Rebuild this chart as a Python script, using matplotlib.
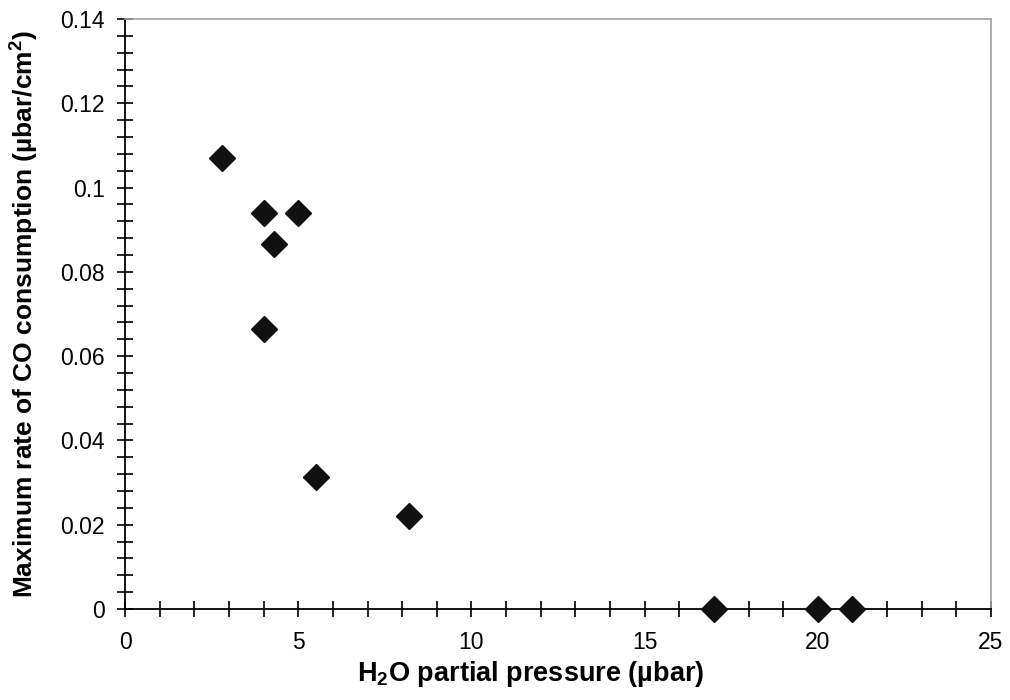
import matplotlib
matplotlib.use('Agg')
import matplotlib.pyplot as plt
from matplotlib.ticker import MultipleLocator, FuncFormatter

plt.rcParams['font.family'] = ['Liberation Sans', 'DejaVu Sans']
plt.rcParams['mathtext.fontset'] = 'custom'
plt.rcParams['mathtext.rm'] = 'Liberation Sans:bold'
plt.rcParams['mathtext.bf'] = 'Liberation Sans:bold'
plt.rcParams['mathtext.default'] = 'bf'

# H2O partial pressure (ubar) vs max rate of CO consumption
h2o = [2.8, 4.0, 5.0, 4.3, 4.0, 5.5, 8.2, 17, 20, 21]
rate = [0.1071, 0.0940, 0.0940, 0.0865, 0.0665, 0.0313, 0.0220, 0, 0, 0]

xticks = [0, 5, 10, 15, 20, 25]
yticks = [0, 0.02, 0.04, 0.06, 0.08, 0.1, 0.12, 0.14]

fig = plt.figure(figsize=(10.1, 7.0), dpi=100)
ax = fig.add_axes([0.1238, 0.13, 0.8574, 0.8429])

ax.plot(h2o, rate, linestyle='none', marker='D', markersize=13.5,
        color='#111111', clip_on=False, zorder=5)

ax.set_xlim(0, 25)
ax.set_ylim(0, 0.14)
ax.set_xticks(xticks)
ax.set_yticks(yticks)
ax.xaxis.set_minor_locator(MultipleLocator(1))
ax.yaxis.set_minor_locator(MultipleLocator(0.004))
ax.yaxis.set_major_formatter(FuncFormatter(lambda v, p: ('%.2f' % v).rstrip('0').rstrip('.') if v != 0 else '0'))

ax.tick_params(which='both', direction='inout', length=11, width=1.2,
               color='black', labelsize=16.5)
ax.tick_params(axis='x', pad=10)
ax.tick_params(axis='y', pad=9)

for s in ['left', 'bottom']:
    ax.spines[s].set_color('black')
    ax.spines[s].set_linewidth(1.3)
for s in ['top', 'right']:
    ax.spines[s].set_color('#a0a0a0')
    ax.spines[s].set_linewidth(1.2)

ax.set_xlabel('H$_2$O partial pressure (µbar)', fontsize=19.5, fontweight='bold')
ax.xaxis.set_label_coords(0.469, -0.084)
ax.set_ylabel('Maximum rate of CO consumption (µbar/cm$^2$)', fontsize=19, fontweight='bold', labelpad=14)

fig.savefig('out.png', dpi=100)
